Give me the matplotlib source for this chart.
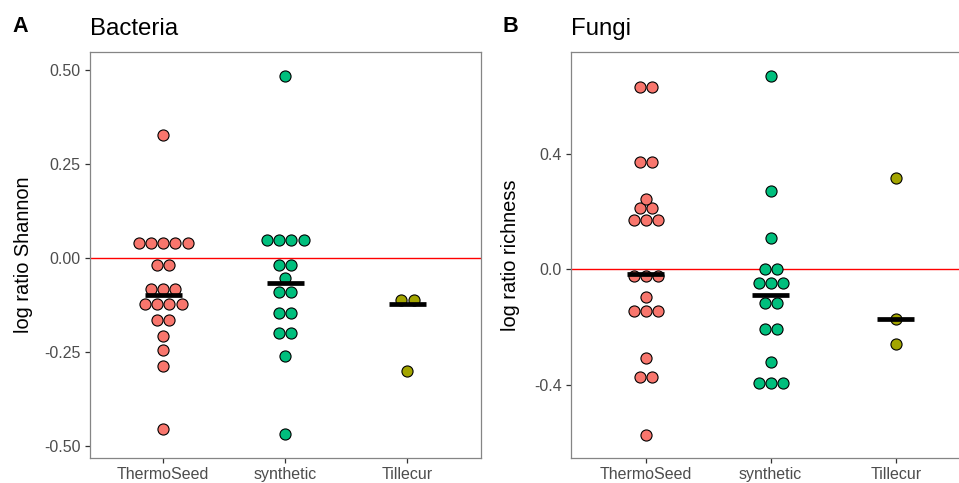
import numpy as np
import matplotlib.pyplot as plt

plt.rcParams['font.family'] = ['Liberation Sans', 'DejaVu Sans']

groups = ["ThermoSeed", "synthetic", "Tillecur"]
colors = ["#F8766D", "#00BF7D", "#A3A500"]

# Bacteria - log ratio Shannon
bact_thermo = [0.327,
               0.041, 0.041, 0.041, 0.041, 0.041,
               -0.017, -0.017,
               -0.083, -0.083, -0.083,
               -0.121, -0.121, -0.121, -0.121,
               -0.164, -0.164,
               -0.206, -0.244, -0.286, -0.455]
bact_synth = [0.484,
              0.048, 0.048, 0.048, 0.048,
              -0.018, -0.018,
              -0.054,
              -0.090, -0.090,
              -0.146, -0.146,
              -0.199, -0.199,
              -0.261, -0.469]
bact_till = [-0.110, -0.110, -0.301]
bact_median = [-0.097, -0.067, -0.122]
bact_ticks = [0.5, 0.25, 0.0, -0.25, -0.5]
bact_ticklabels = ["0.50", "0.25", "0.00", "-0.25", "-0.50"]

# Fungi - log ratio richness
fungi_thermo = [0.630, 0.630,
                0.369, 0.369,
                0.241,
                0.212, 0.212,
                0.170, 0.170, 0.170,
                -0.024, -0.024, -0.024,
                -0.096,
                -0.144, -0.144, -0.144,
                -0.309,
                -0.375, -0.375,
                -0.573]
fungi_synth = [0.668, 0.270, 0.106,
               0.002, 0.002,
               -0.047, -0.047, -0.047,
               -0.118, -0.118,
               -0.208, -0.208,
               -0.322,
               -0.394, -0.394, -0.394]
fungi_till = [0.316, -0.173, -0.259]
fungi_median = [-0.017, -0.091, -0.174]
fungi_ticks = [0.4, 0.0, -0.4]
fungi_ticklabels = ["0.4", "0.0", "-0.4"]

W, H = 959, 483
fig = plt.figure(figsize=(W / 100, H / 100), dpi=100)

dot_px = 12.2   # centre spacing of stacked dots


def panel(rect_px, data, medians, ticks, ticklabels, ylim, ylabel, label_x):
    left, top, width, height = rect_px
    ax = fig.add_axes([left / W, 1 - (top + height) / H, width / W, height / H])
    xlim = (0.4, 3.6)
    step = dot_px * (xlim[1] - xlim[0]) / width
    for i, vals in enumerate(data):
        vals = np.array(vals)
        for v in np.unique(vals):
            n = np.sum(vals == v)
            xs = i + 1 + (np.arange(n) - (n - 1) / 2) * step
            ax.scatter(xs, np.full(n, v), s=64, c=colors[i], edgecolors='black',
                       linewidths=0.8, zorder=3, clip_on=False)
    ax.axhline(0, color='red', lw=1.0, zorder=2)
    for i, m in enumerate(medians):
        ax.plot([i + 1 - 0.15, i + 1 + 0.15], [m, m], color='black', lw=3.4,
                solid_capstyle='butt', zorder=4)
    ax.set_xlim(xlim)
    ax.set_ylim(ylim)
    ax.set_xticks([1, 2, 3])
    ax.set_xticklabels(groups)
    ax.set_yticks(ticks)
    ax.set_yticklabels(ticklabels)
    ax.tick_params(axis='both', labelsize=11.5, labelcolor='#4D4D4D', color='#333333',
                   length=3.6, width=0.9, pad=3)
    for s in ax.spines.values():
        s.set_color('#858585')
        s.set_linewidth(0.9)
    ax.set_ylabel(ylabel, fontsize=14.4)
    ax.yaxis.set_label_coords(label_x, 0.5)
    return ax


panel((90, 52, 390.7, 406), [bact_thermo, bact_synth, bact_till], bact_median,
      bact_ticks, bact_ticklabels, (-0.532, 0.549), "log ratio Shannon", -0.146)
panel((570.7, 52, 400, 406), [fungi_thermo, fungi_synth, fungi_till], fungi_median,
      fungi_ticks, fungi_ticklabels, (-0.654, 0.7515), "log ratio richness", -0.128)

fig.text(90 / W, 1 - 35 / H, "Bacteria", fontsize=17.3, va='baseline', ha='left')
fig.text(570.7 / W, 1 - 35 / H, "Fungi", fontsize=17.3, va='baseline', ha='left')
fig.text(12.7 / W, 1 - 32 / H, "A", fontsize=15.6, fontweight='bold', va='baseline', ha='left')
fig.text(502.7 / W, 1 - 32 / H, "B", fontsize=15.6, fontweight='bold', va='baseline', ha='left')

plt.savefig('out.png', dpi=100)
